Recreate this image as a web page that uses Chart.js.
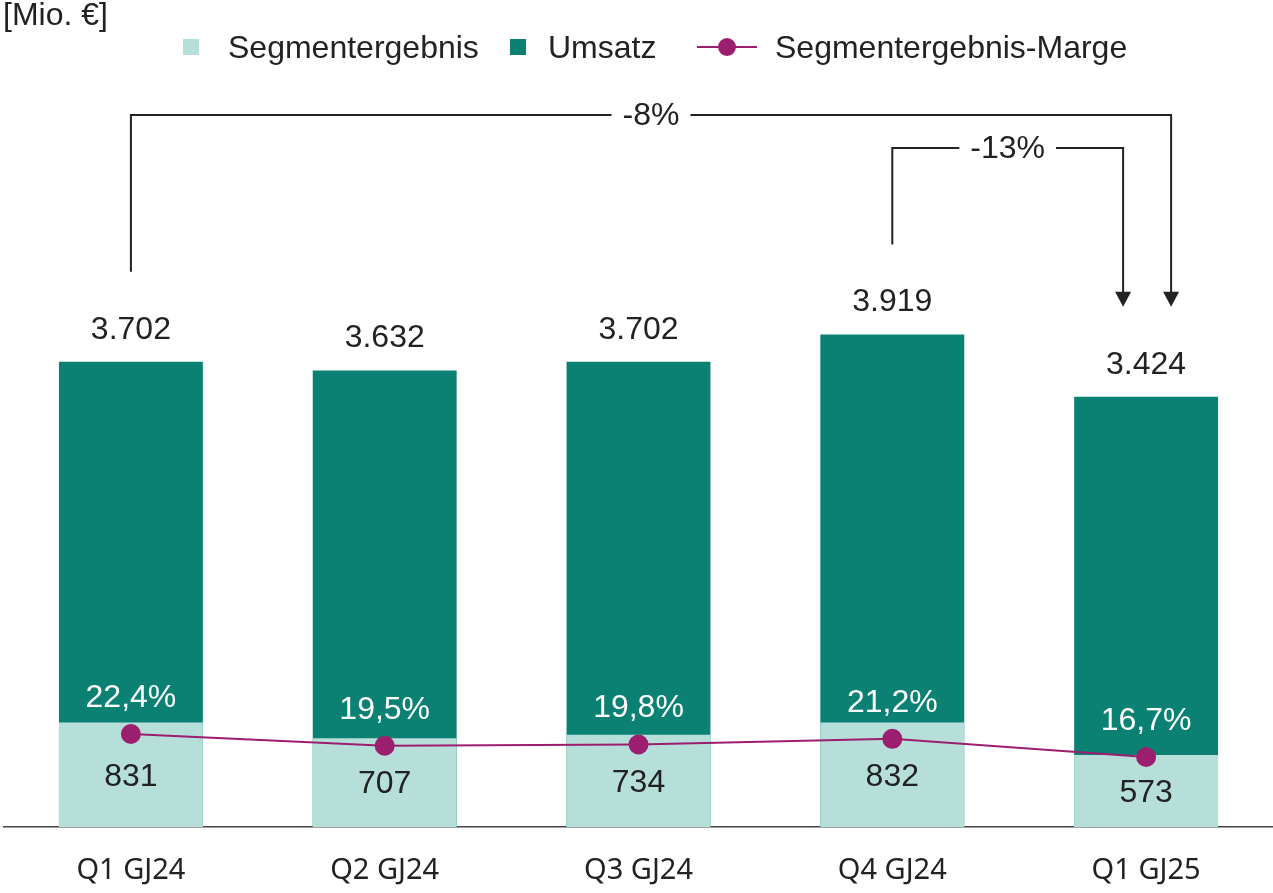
<!DOCTYPE html>
<html>
<head>
<meta charset="utf-8">
<title>Segmentergebnis und Umsatz</title>
<script src="https://cdn.jsdelivr.net/npm/chart.js"></script>
<style>
    body { margin: 0; background: #fff; }
</style>
</head>
<body>
<canvas id="myChart" width="1273" height="893"></canvas>

<script>
    // Werte
    var quarters = ['Q1 GJ24', 'Q2 GJ24', 'Q3 GJ24', 'Q4 GJ24', 'Q1 GJ25'];
    var umsatz = [3702, 3632, 3702, 3919, 3424];
    var segmentergebnis = [831, 707, 734, 832, 573];
    var marge = [22.4, 19.5, 19.8, 21.2, 16.7];
    // Veränderungen: von Quartal, bis Quartal, Text
    var changeFrom = [0, 3];
    var changeTo = [4, 4];
    var changeText = ['-8%', '-13%'];

    var darkTeal = '#0b8174';
    var lightTeal = '#b6dfda';
    var purple = '#9c1e6f';
    var textColor = '#222222';
    var font = "'Liberation Sans', Arial, sans-serif";

    function fmtThousand(v) {
        var s = String(v);
        return s.length > 3 ? s.slice(0, -3) + '.' + s.slice(-3) : s;
    }
    function fmtPct(v) {
        return v.toFixed(1).replace('.', ',') + '%';
    }

    var labelPlugin = {
        id: 'labels',
        afterDraw: function (chart) {
            var ctx = chart.ctx;
            var x = chart.scales.x, y = chart.scales.y, y1 = chart.scales.y1;
            var base = y.getPixelForValue(0);
            ctx.save();
            ctx.textAlign = 'center';
            ctx.textBaseline = 'middle';
            ctx.font = '32px ' + font;

            for (var i = 0; i < quarters.length; i++) {
                var px = x.getPixelForValue(i);
                ctx.fillStyle = textColor;
                ctx.fillText(fmtThousand(umsatz[i]), px, y.getPixelForValue(umsatz[i]) - 32);
                var segTop = y.getPixelForValue(segmentergebnis[i]);
                ctx.fillText(String(segmentergebnis[i]), px, (segTop + base) / 2 + 2);
                ctx.fillStyle = '#ffffff';
                ctx.fillText(fmtPct(marge[i]), px, y1.getPixelForValue(marge[i]) - 36);
            }

            // Klammern mit Pfeilen
            var levels = [115, 148];
            var arrowOffset = [25, -23];
            ctx.strokeStyle = textColor;
            ctx.fillStyle = textColor;
            ctx.lineWidth = 2;
            for (var k = 0; k < changeText.length; k++) {
                var a = changeFrom[k], b = changeTo[k];
                var x0 = x.getPixelForValue(a);
                var x1 = x.getPixelForValue(b) + arrowOffset[k];
                var yStart = y.getPixelForValue(umsatz[a]) - 90;
                var yTip = y.getPixelForValue(umsatz[b]) - 90;
                var lv = levels[k];
                var mid = (x0 + x1) / 2;
                var gap = ctx.measureText(changeText[k]).width / 2 + 11;
                ctx.beginPath();
                ctx.moveTo(x0, yStart);
                ctx.lineTo(x0, lv);
                ctx.lineTo(mid - gap, lv);
                ctx.moveTo(mid + gap, lv);
                ctx.lineTo(x1, lv);
                ctx.lineTo(x1, yTip - 14);
                ctx.stroke();
                ctx.beginPath();
                ctx.moveTo(x1 - 8, yTip - 15);
                ctx.lineTo(x1 + 8, yTip - 15);
                ctx.lineTo(x1, yTip);
                ctx.closePath();
                ctx.fill();
                ctx.fillText(changeText[k], mid, lv + 1);
            }

            // Einheit und Legende
            ctx.textAlign = 'left';
            ctx.fillStyle = textColor;
            ctx.fillText('[Mio. €]', 3, 16);

            ctx.fillStyle = lightTeal;
            ctx.fillRect(183, 39, 16, 16);
            ctx.fillStyle = textColor;
            ctx.fillText('Segmentergebnis', 228, 49);

            ctx.fillStyle = darkTeal;
            ctx.fillRect(510, 39, 16, 16);
            ctx.fillStyle = textColor;
            ctx.fillText('Umsatz', 548, 49);

            ctx.strokeStyle = purple;
            ctx.lineWidth = 2;
            ctx.beginPath();
            ctx.moveTo(697, 47);
            ctx.lineTo(757, 47);
            ctx.stroke();
            ctx.fillStyle = purple;
            ctx.beginPath();
            ctx.arc(727, 47, 9, 0, Math.PI * 2);
            ctx.fill();
            ctx.fillStyle = textColor;
            ctx.fillText('Segmentergebnis-Marge', 775, 49);
            ctx.restore();
        }
    };

    var ctx = document.getElementById('myChart').getContext('2d');
    var myChart = new Chart(ctx, {
        type: 'bar',
        data: {
            labels: quarters,
            datasets: [{
                type: 'line',
                label: 'Segmentergebnis-Marge',
                data: marge,
                yAxisID: 'y1',
                borderColor: purple,
                backgroundColor: purple,
                borderWidth: 2,
                pointRadius: 10,
                pointBorderWidth: 0,
                pointBackgroundColor: purple,
                tension: 0,
                order: 0
            }, {
                label: 'Segmentergebnis',
                data: segmentergebnis,
                backgroundColor: lightTeal,
                grouped: false,
                order: 1
            }, {
                label: 'Umsatz',
                data: umsatz,
                backgroundColor: darkTeal,
                grouped: false,
                order: 2
            }]
        },
        options: {
            responsive: false,
            animation: false,
            layout: { autoPadding: false, padding: { top: 73, left: 4, right: 0, bottom: 0 } },
            datasets: { bar: { categoryPercentage: 1, barPercentage: 0.567 } },
            plugins: {
                legend: { display: false },
                tooltip: { enabled: false }
            },
            scales: {
                x: {
                    grid: { display: false, drawTicks: false },
                    border: { color: '#444444', width: 1.5 },
                    ticks: {
                        color: textColor,
                        padding: 26,
                        font: { family: "'Noto Sans', sans-serif", size: 29 }
                    },
                    afterFit: function (scale) { scale.height = 66; }
                },
                y: { display: false, min: 0, max: 6000 },
                y1: { display: false, min: -0.64, max: 186.2 }
            }
        },
        plugins: [labelPlugin]
    });
</script>
</body>
</html>
